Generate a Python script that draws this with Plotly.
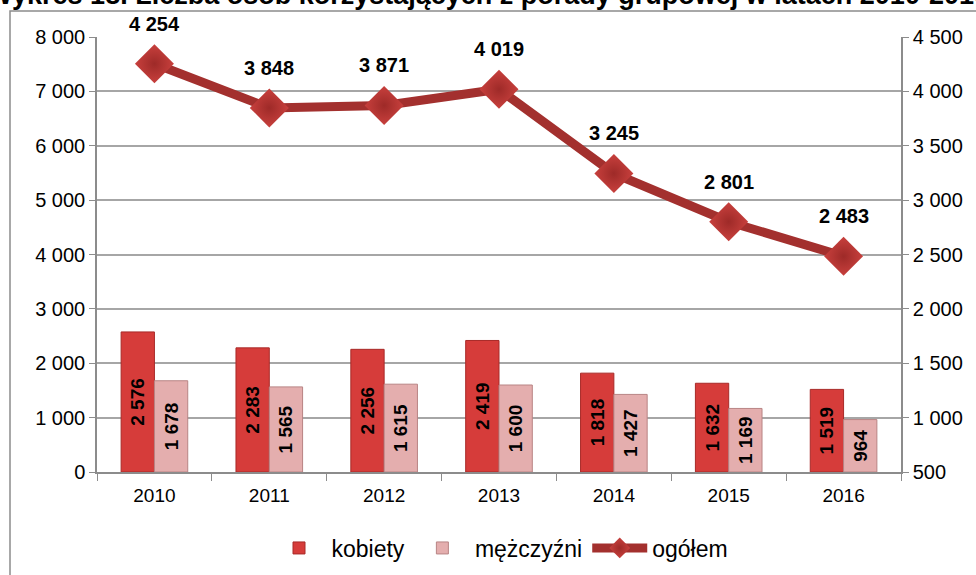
import plotly.graph_objects as go

years = ["2010", "2011", "2012", "2013", "2014", "2015", "2016"]
kobiety = [2576, 2283, 2256, 2419, 1818, 1632, 1519]
mezczyzni = [1678, 1565, 1615, 1600, 1427, 1169, 964]
ogolem = [4254, 3848, 3871, 4019, 3245, 2801, 2483]

title_text = "Wykres 18. Liczba osób korzystających z porady grupowej w latach 2010-2016"
left_ticks = list(range(0, 8001, 1000))
right_ticks = list(range(500, 4501, 500))


def fmt(v):
    return f"{v:,}".replace(",", " ")


FONT = "Liberation Sans, Arial, sans-serif"

fig = go.Figure()
fig.add_trace(go.Bar(
    x=years, y=kobiety, name="kobiety",
    marker=dict(color="#D63C3A", line=dict(color="#A82A28", width=1)),
    text=[fmt(v) for v in kobiety], textposition="inside",
    insidetextanchor="middle", textangle=-90,
    textfont=dict(family=FONT, size=19, color="black", weight="bold"),
    yaxis="y",
))
fig.add_trace(go.Bar(
    x=years, y=mezczyzni, name="mężczyźni",
    marker=dict(color="#E4AEAE", line=dict(color="#B88484", width=1)),
    text=[fmt(v) for v in mezczyzni], textposition="inside",
    insidetextanchor="middle", textangle=-90,
    textfont=dict(family=FONT, size=19, color="black", weight="bold"),
    yaxis="y",
))
fig.add_trace(go.Scatter(
    x=years, y=ogolem, name="ogółem", mode="lines+markers",
    line=dict(color="#A3302E", width=9),
    marker=dict(symbol="diamond", size=30, color="#C8403D",
                gradient=dict(type="radial", color="#9E2A28"),
                line=dict(width=0)),
    yaxis="y2", cliponaxis=False,
))

for i, v in enumerate(ogolem):
    fig.add_annotation(x=i, y=v, xref="x", yref="y2", text=fmt(v), showarrow=False,
                       yanchor="middle", xanchor="center", yshift=40,
                       font=dict(family=FONT, size=20, color="black", weight="bold"))

fig.update_layout(
    width=976, height=575,
    margin=dict(l=97, r=75, t=37, b=103, autoexpand=False),
    paper_bgcolor="white", plot_bgcolor="white",
    font=dict(family=FONT, size=19, color="black"),
    barmode="group", bargap=0.42, bargroupgap=0,
    showlegend=True,
    legend=dict(orientation="h", x=500 / 976, y=1 - 548 / 575, xref="container", yref="container",
                xanchor="center", yanchor="middle",
                font=dict(size=23), traceorder="normal", itemwidth=55),
    title=dict(text=title_text, x=0.5, xanchor="center", xref="container",
               y=1 - 4 / 575, yref="container", yanchor="bottom",
               font=dict(family=FONT, size=27, color="black", weight="bold")),
    xaxis=dict(type="category", range=[-0.5, len(years) - 0.5],
               showline=True, linecolor="#8C8C8C", linewidth=1.5,
               ticks="outside", tickson="boundaries", ticklen=7, tickcolor="#8C8C8C",
               showgrid=False, tickfont=dict(size=19), tickangle=0, automargin=False,
               ticklabelstandoff=5),
    yaxis=dict(range=[0, 8000], tickvals=left_ticks, ticktext=[fmt(v) for v in left_ticks],
               showline=True, linecolor="#8C8C8C", linewidth=1.5,
               ticks="outside", ticklen=6, tickcolor="#8C8C8C",
               showgrid=True, gridcolor="#A6A6A6", gridwidth=1.5, zeroline=False,
               tickfont=dict(size=20), automargin=False),
    yaxis2=dict(range=[500, 4500], tickvals=right_ticks, ticktext=[fmt(v) for v in right_ticks],
                overlaying="y", side="right", showline=True, linecolor="#8C8C8C", linewidth=1.5,
                ticks="outside", ticklen=6, tickcolor="#8C8C8C",
                showgrid=False, zeroline=False, tickfont=dict(size=20), automargin=False),
    uniformtext=dict(minsize=18, mode="show"),
)

fig.add_shape(type="rect", xref="paper", yref="paper",
              x0=(10 - 97) / 804, x1=1.2, y0=-0.4, y1=(472 - 11) / 435,
              line=dict(color="#8C8C8C", width=1.5), layer="below")

fig.write_html("out.html", config={"displayModeBar": False},
               post_script="document.body.style.margin='0';document.body.style.overflow='hidden';")
